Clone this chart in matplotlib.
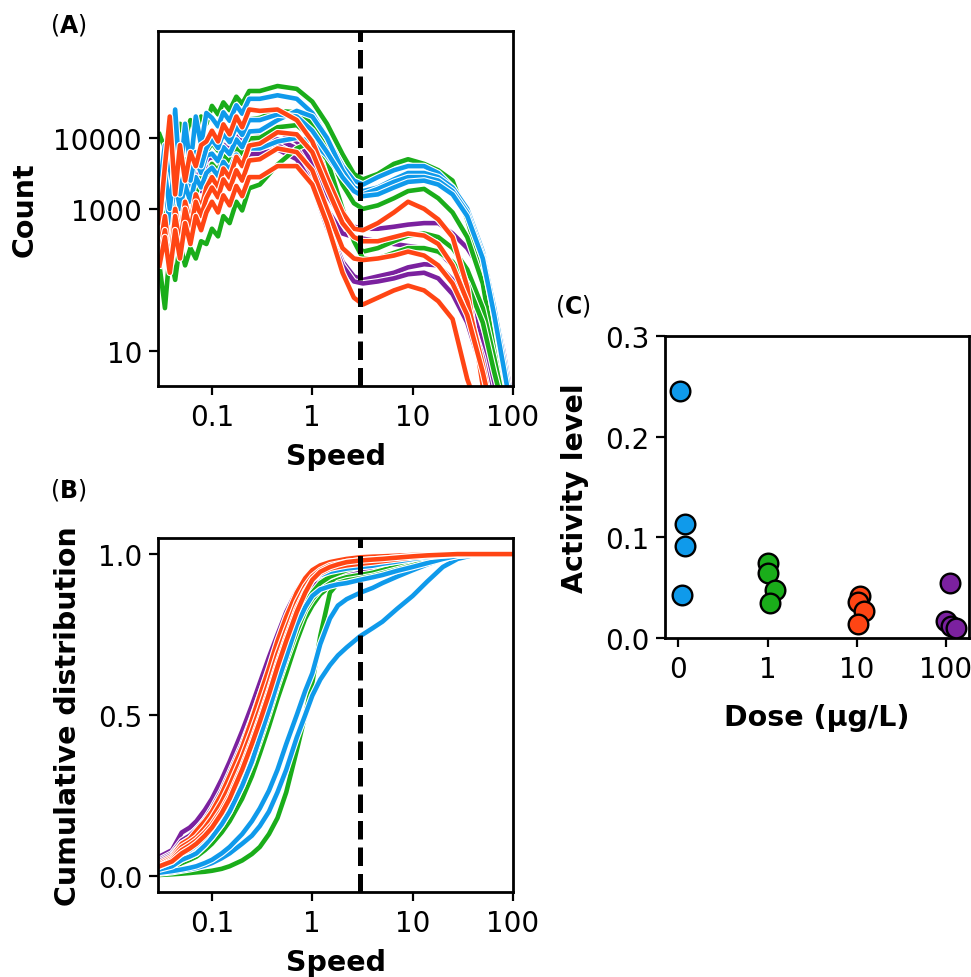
import matplotlib
matplotlib.use("Agg")
import matplotlib.pyplot as plt
import matplotlib.patheffects as pe
from matplotlib.ticker import FixedLocator, FixedFormatter, NullLocator

# ---------------- colours per dose group ----------------
group_names = ["0", "1", "10", "100"]
group_colors = ["#0F9AEB", "#1AAD1A", "#FF4514", "#7B219F"]

# ---------------- Panel A: speed histograms (Count vs Speed) ----------------
speed_a = [0.030, 0.034, 0.038, 0.043, 0.048, 0.054, 0.061, 0.069, 0.078, 0.088,
           0.10, 0.115, 0.13, 0.15, 0.175, 0.2, 0.235,
           0.3, 0.45, 0.7, 1.0, 1.4, 2.0, 2.6, 3.2, 4.5, 6.5, 9,
           13, 18, 25, 35, 50, 65, 80, 95]

count_blue = [
    [2000, 7900, 1600, 25100, 2500, 15800, 4000, 20000, 7900, 22400,
     19100, 14500, 22900, 17400, 28800, 21900, 35500,
     35500, 39800, 35500, 22400, 10000, 4000, 2500, 2200, 2800, 3500, 4000,
     4000, 3200, 2000, 890, 200, 32, 6.3, 1.6],
    [1000, 2500, 790, 4000, 1260, 3200, 2000, 5000, 3200, 5600,
     6000, 4700, 7400, 5900, 9500, 7400, 12300,
     12600, 17800, 24000, 20000, 10000, 3500, 2000, 1780, 2000, 2600, 3200,
     3200, 2800, 2000, 1000, 250, 40, 8, 2],
    [790, 2000, 630, 2500, 1000, 2200, 1260, 2800, 2000, 3200,
     3800, 2900, 4600, 3500, 5800, 4400, 7100,
     7100, 8900, 10000, 8900, 5600, 2800, 1780, 1600, 1910, 2400, 2800,
     2800, 2500, 1780, 890, 220, 40, 8, 2],
    [1260, 3200, 1000, 5000, 1600, 4000, 2500, 6300, 4000, 7100,
     9500, 7200, 11500, 8700, 14500, 11000, 17800,
     17800, 21400, 20000, 12600, 6300, 2800, 1780, 1510, 1600, 2000, 2400,
     2500, 2200, 1600, 790, 200, 32, 6.3, 1.6],
]
count_green = [
    [11200, 7100, 14100, 7900, 15800, 10000, 17800, 12600, 20000, 15800,
     28200, 21400, 31600, 24500, 38000, 30200, 45700,
     45700, 53700, 49000, 32400, 15800, 5900, 3100, 2600, 3100, 4300, 5000,
     4300, 3500, 2500, 710, 126, 12.6, 1.6, 1],
    [2000, 4000, 1600, 3500, 2200, 5000, 3200, 5600, 4000, 6300,
     8500, 6600, 10700, 8500, 14100, 11000, 18200,
     19100, 24000, 22900, 15800, 7100, 2200, 1200, 1000, 1120, 1410, 1780,
     1910, 1410, 890, 400, 89, 10, 2, 1],
    [1260, 630, 1600, 790, 2000, 1000, 2200, 1600, 2800, 2500,
     4300, 3400, 5600, 4500, 7400, 5900, 9800,
     10000, 14100, 15100, 10000, 4000, 790, 350, 250, 280, 350, 420,
     450, 400, 280, 140, 40, 8, 2, 1],
    [160, 40, 250, 100, 320, 160, 280, 200, 350, 320,
     525, 410, 790, 630, 1260, 950, 1950,
     2200, 4200, 7100, 8900, 5000, 1000, 350, 200, 200, 240, 280,
     280, 250, 180, 89, 25, 5, 1.6, 1],
]
count_orange = [
    [630, 4000, 20000, 1600, 7900, 2500, 6300, 4000, 7900, 8900,
     12600, 8900, 15500, 11200, 20000, 14100, 25100,
     24000, 25100, 17800, 8900, 2800, 890, 525, 500, 630, 890, 1260,
     1000, 710, 400, 79, 3.2, 1, 1, 1],
    [250, 790, 200, 1000, 400, 1260, 630, 1600, 1000, 2000,
     2800, 2000, 3700, 2750, 5400, 4000, 7800,
     8300, 12000, 11200, 6300, 2000, 630, 400, 350, 350, 400, 450,
     420, 320, 160, 50, 6.3, 1, 1, 1],
    [200, 500, 160, 790, 320, 1000, 500, 1260, 790, 1410,
     2000, 1450, 2600, 1900, 3500, 2500, 4800,
     5000, 7100, 6300, 3500, 1000, 280, 200, 190, 200, 220, 250,
     220, 160, 89, 32, 5, 1, 1, 1],
    [160, 400, 126, 500, 200, 630, 320, 790, 500, 890,
     1260, 890, 1550, 1120, 2100, 1510, 2800,
     2800, 4000, 4000, 2200, 630, 126, 56, 45, 56, 71, 83,
     71, 50, 28, 4, 1, 1, 1, 1],
]
count_purple = [
    [1600, 4000, 2000, 5000, 2500, 5600, 3200, 6300, 4000, 7100,
     8100, 6600, 9100, 7600, 10700, 8700, 12300,
     12000, 12600, 8900, 4500, 1600, 710, 560, 525, 525, 560, 600,
     630, 630, 450, 280, 126, 40, 10, 2.5],
    [1000, 2500, 1260, 3200, 1600, 3500, 2000, 4000, 2800, 4500,
     5500, 4500, 6300, 5200, 7600, 6200, 8900,
     8900, 9500, 7100, 3200, 1000, 450, 400, 380, 350, 320, 300,
     280, 250, 160, 63, 12.6, 2.5, 1, 1],
    [790, 2000, 1000, 2500, 1260, 2800, 1600, 3200, 2200, 3500,
     4400, 3500, 5000, 4200, 6000, 4900, 7100,
     7100, 7900, 5600, 2500, 630, 180, 112, 100, 112, 126, 150,
     166, 160, 100, 40, 8, 1.6, 1, 1],
    [630, 1600, 790, 2000, 1000, 2200, 1260, 2500, 1780, 2800,
     3600, 2950, 4200, 3500, 5000, 4100, 5900,
     6000, 6900, 5000, 2200, 560, 160, 95, 89, 95, 105, 120,
     126, 105, 63, 25, 5, 1.3, 1, 1],
]

# ---------------- Panel B: cumulative distributions ----------------
speed_b = [0.03, 0.04, 0.05, 0.06, 0.07, 0.085, 0.1, 0.125, 0.15, 0.2, 0.25, 0.3,
           0.37, 0.45, 0.55, 0.7, 0.85, 1.0, 1.2, 1.5, 1.8, 2.2, 3, 4, 5, 7, 10,
           14, 20, 28, 40, 100]

cdf_blue = [
    [0.008, 0.012, 0.017, 0.021, 0.025, 0.032, 0.04, 0.055, 0.07, 0.10, 0.125, 0.155,
     0.20, 0.26, 0.33, 0.43, 0.50, 0.56, 0.61, 0.655, 0.685, 0.71, 0.745, 0.77, 0.79,
     0.83, 0.87, 0.915, 0.96, 0.985, 0.997, 1.0],
    [0.01, 0.015, 0.02, 0.025, 0.03, 0.04, 0.05, 0.07, 0.09, 0.13, 0.17, 0.21,
     0.265, 0.33, 0.41, 0.50, 0.575, 0.63, 0.72, 0.80, 0.84, 0.86, 0.88, 0.895, 0.91,
     0.93, 0.95, 0.968, 0.985, 0.995, 0.999, 1.0],
    [0.02, 0.03, 0.05, 0.06, 0.07, 0.095, 0.12, 0.16, 0.20, 0.28, 0.355, 0.43,
     0.515, 0.60, 0.68, 0.78, 0.835, 0.87, 0.89, 0.90, 0.906, 0.91, 0.92, 0.928, 0.935,
     0.948, 0.96, 0.972, 0.985, 0.995, 0.999, 1.0],
    [0.03, 0.045, 0.07, 0.08, 0.095, 0.12, 0.15, 0.20, 0.25, 0.34, 0.42, 0.50,
     0.585, 0.68, 0.76, 0.84, 0.895, 0.92, 0.935, 0.945, 0.95, 0.955, 0.96, 0.964, 0.97,
     0.977, 0.985, 0.991, 0.996, 0.999, 1.0, 1.0],
]
cdf_green = [
    [0.015, 0.025, 0.04, 0.05, 0.06, 0.08, 0.10, 0.135, 0.17, 0.24, 0.31, 0.38,
     0.465, 0.55, 0.63, 0.73, 0.80, 0.84, 0.875, 0.90, 0.912, 0.92, 0.93, 0.937, 0.945,
     0.957, 0.97, 0.98, 0.99, 0.996, 1.0, 1.0],
    [0.02, 0.03, 0.05, 0.06, 0.07, 0.095, 0.12, 0.16, 0.20, 0.28, 0.35, 0.42,
     0.505, 0.59, 0.67, 0.76, 0.825, 0.86, 0.89, 0.91, 0.92, 0.928, 0.935, 0.942, 0.95,
     0.962, 0.975, 0.985, 0.993, 0.998, 1.0, 1.0],
    [0.025, 0.035, 0.055, 0.065, 0.08, 0.105, 0.13, 0.175, 0.22, 0.30, 0.375, 0.45,
     0.535, 0.62, 0.70, 0.79, 0.85, 0.88, 0.91, 0.93, 0.94, 0.95, 0.96, 0.965, 0.97,
     0.978, 0.985, 0.99, 0.996, 0.999, 1.0, 1.0],
    [0.003, 0.005, 0.007, 0.009, 0.011, 0.013, 0.016, 0.022, 0.03, 0.048, 0.068, 0.09,
     0.13, 0.18, 0.26, 0.39, 0.50, 0.60, 0.745, 0.88, 0.91, 0.918, 0.925, 0.932, 0.94,
     0.952, 0.965, 0.978, 0.99, 0.997, 1.0, 1.0],
]
cdf_orange = [
    [0.04, 0.06, 0.10, 0.115, 0.14, 0.17, 0.20, 0.255, 0.31, 0.40, 0.485, 0.56,
     0.645, 0.73, 0.805, 0.88, 0.925, 0.95, 0.965, 0.975, 0.98, 0.985, 0.99, 0.992, 0.993,
     0.995, 0.997, 0.998, 1.0, 1.0, 1.0, 1.0],
    [0.035, 0.055, 0.09, 0.105, 0.12, 0.15, 0.18, 0.23, 0.28, 0.37, 0.45, 0.52,
     0.605, 0.69, 0.765, 0.85, 0.90, 0.93, 0.95, 0.965, 0.97, 0.975, 0.98, 0.983, 0.985,
     0.989, 0.993, 0.996, 0.998, 1.0, 1.0, 1.0],
    [0.03, 0.05, 0.08, 0.095, 0.11, 0.135, 0.16, 0.205, 0.25, 0.34, 0.42, 0.49,
     0.575, 0.66, 0.74, 0.83, 0.885, 0.92, 0.94, 0.955, 0.96, 0.965, 0.97, 0.974, 0.978,
     0.984, 0.99, 0.994, 0.997, 0.999, 1.0, 1.0],
    [0.03, 0.045, 0.07, 0.085, 0.10, 0.125, 0.15, 0.195, 0.24, 0.33, 0.41, 0.48,
     0.565, 0.65, 0.73, 0.82, 0.88, 0.92, 0.945, 0.96, 0.968, 0.975, 0.98, 0.983, 0.985,
     0.989, 0.993, 0.996, 0.998, 1.0, 1.0, 1.0],
]
cdf_purple = [
    [0.06, 0.08, 0.135, 0.15, 0.17, 0.205, 0.24, 0.30, 0.355, 0.45, 0.53, 0.60,
     0.68, 0.75, 0.82, 0.885, 0.925, 0.95, 0.965, 0.975, 0.98, 0.985, 0.988, 0.99, 0.992,
     0.995, 0.997, 0.998, 0.999, 1.0, 1.0, 1.0],
    [0.05, 0.07, 0.11, 0.125, 0.145, 0.175, 0.21, 0.265, 0.32, 0.41, 0.49, 0.56,
     0.64, 0.72, 0.79, 0.86, 0.905, 0.93, 0.948, 0.96, 0.968, 0.974, 0.98, 0.984, 0.988,
     0.992, 0.995, 0.997, 0.999, 1.0, 1.0, 1.0],
    [0.04, 0.06, 0.09, 0.105, 0.125, 0.155, 0.19, 0.24, 0.29, 0.38, 0.46, 0.53,
     0.61, 0.69, 0.76, 0.83, 0.875, 0.90, 0.918, 0.93, 0.936, 0.94, 0.945, 0.952, 0.96,
     0.97, 0.98, 0.988, 0.995, 0.998, 1.0, 1.0],
    [0.045, 0.065, 0.10, 0.115, 0.135, 0.165, 0.20, 0.25, 0.30, 0.39, 0.47, 0.54,
     0.62, 0.70, 0.775, 0.85, 0.90, 0.93, 0.95, 0.965, 0.97, 0.975, 0.98, 0.983, 0.985,
     0.989, 0.993, 0.996, 0.998, 1.0, 1.0, 1.0],
]

# ---------------- Panel C: activity level per dose ----------------
dose_pos_blue = [0.015, 0.078, 0.07, 0.04]
activity_blue = [0.245, 0.113, 0.091, 0.043]
dose_pos_green = [1.0, 1.0, 1.08, 1.03]
activity_green = [0.075, 0.065, 0.048, 0.035]
dose_pos_orange = [2.04, 2.01, 2.08, 2.015]
activity_orange = [0.042, 0.0355, 0.027, 0.014]
dose_pos_purple = [3.05, 3.0, 3.06, 3.11]
activity_purple = [0.055, 0.0166, 0.0122, 0.010]

threshold_speed = 3.0

# ---------------- styling ----------------
plt.rcParams["font.family"] = ["DejaVu Sans"]
plt.rcParams["font.size"] = 20
TICK_FS = 20
LABEL_FS = 20.5
SPINE_LW = 2.0
LINE_LW = 3.3
YLABEL_PAD = 11
XLABEL_PAD = 8

fig = plt.figure(figsize=(9.71, 9.78), dpi=100)
axA = fig.add_axes([158 / 971, 1 - 387 / 978, 355 / 971, 355 / 978])
axB = fig.add_axes([158 / 971, 1 - 893 / 978, 355 / 971, 354 / 978])
axC = fig.add_axes([665 / 971, 1 - 639 / 978, 304 / 971, 302 / 978])

stroke = [pe.Stroke(linewidth=LINE_LW + 1.6, foreground="white"), pe.Normal()]


def style_axes(ax):
    for s in ax.spines.values():
        s.set_linewidth(SPINE_LW)
    ax.tick_params(axis="both", which="major", length=6.5, width=1.6,
                   labelsize=TICK_FS)
    ax.tick_params(axis="x", which="major", pad=5.5)
    ax.tick_params(axis="y", which="major", pad=5)
    ax.tick_params(axis="both", which="minor", length=0)


# drawing order: purple, green, blue, orange
groupsA = [(count_purple, group_colors[3]), (count_green, group_colors[1]),
           (count_blue, group_colors[0]), (count_orange, group_colors[2])]
for curves, col in groupsA:
    for c in curves:
        axA.plot(speed_a, c, color=col, lw=LINE_LW, path_effects=stroke,
                 solid_joinstyle="round")
axA.axvline(threshold_speed, color="black", ls="--", lw=3.6)
axA.set_xscale("log")
axA.set_yscale("log")
axA.set_xlim(0.029, 100)
axA.set_ylim(3.2, 3.2e5)
axA.xaxis.set_major_locator(FixedLocator([0.1, 1, 10, 100]))
axA.xaxis.set_major_formatter(FixedFormatter(["0.1", "1", "10", "100"]))
axA.xaxis.set_minor_locator(NullLocator())
axA.yaxis.set_major_locator(FixedLocator([10, 1000, 10000]))
axA.yaxis.set_major_formatter(FixedFormatter(["10", "1000", "10000"]))
axA.yaxis.set_minor_locator(NullLocator())
axA.set_xlabel("Speed", fontsize=LABEL_FS, fontweight="bold", labelpad=XLABEL_PAD)
axA.set_ylabel("Count", fontsize=LABEL_FS, fontweight="bold", labelpad=YLABEL_PAD)
style_axes(axA)

groupsB = [(cdf_purple, group_colors[3]), (cdf_green, group_colors[1]),
           (cdf_blue, group_colors[0]), (cdf_orange, group_colors[2])]
for curves, col in groupsB:
    for c in curves:
        axB.plot(speed_b, c, color=col, lw=LINE_LW, path_effects=stroke,
                 solid_joinstyle="round")
axB.axvline(threshold_speed, color="black", ls="--", lw=3.6)
axB.set_xscale("log")
axB.set_xlim(0.029, 100)
axB.set_ylim(-0.05, 1.05)
axB.xaxis.set_major_locator(FixedLocator([0.1, 1, 10, 100]))
axB.xaxis.set_major_formatter(FixedFormatter(["0.1", "1", "10", "100"]))
axB.xaxis.set_minor_locator(NullLocator())
axB.set_yticks([0.0, 0.5, 1.0])
axB.set_yticklabels(["0.0", "0.5", "1.0"])
axB.set_xlabel("Speed", fontsize=LABEL_FS, fontweight="bold", labelpad=XLABEL_PAD)
axB.set_ylabel("Cumulative distribution", fontsize=LABEL_FS, fontweight="bold",
               labelpad=YLABEL_PAD)
style_axes(axB)

for xs, ys, col in [(dose_pos_blue, activity_blue, group_colors[0]),
                    (dose_pos_green, activity_green, group_colors[1]),
                    (dose_pos_orange, activity_orange, group_colors[2]),
                    (dose_pos_purple, activity_purple, group_colors[3])]:
    axC.scatter(xs, ys, s=200, color=col, edgecolor="black", linewidth=1.7,
                zorder=3)
axC.set_xlim(-0.15, 3.26)
axC.set_ylim(0, 0.3)
axC.set_xticks(range(len(group_names)))
axC.set_xticklabels(group_names)
axC.set_yticks([0.0, 0.1, 0.2, 0.3])
axC.set_yticklabels(["0.0", "0.1", "0.2", "0.3"])
axC.set_xlabel("Dose (\u00b5g/L)", fontsize=LABEL_FS, fontweight="bold", labelpad=15)
axC.set_ylabel("Activity level", fontsize=LABEL_FS, fontweight="bold",
               labelpad=YLABEL_PAD)
style_axes(axC)

fig.text(50 / 971, 1 - 25 / 978, r"($\mathbf{A}$)", fontsize=17, va="center", ha="left")
fig.text(50 / 971, 1 - 490 / 978, r"($\mathbf{B}$)", fontsize=17, va="center", ha="left")
fig.text(555 / 971, 1 - 306 / 978, r"($\mathbf{C}$)", fontsize=17, va="center", ha="left")

fig.savefig("out.png", dpi=100)
